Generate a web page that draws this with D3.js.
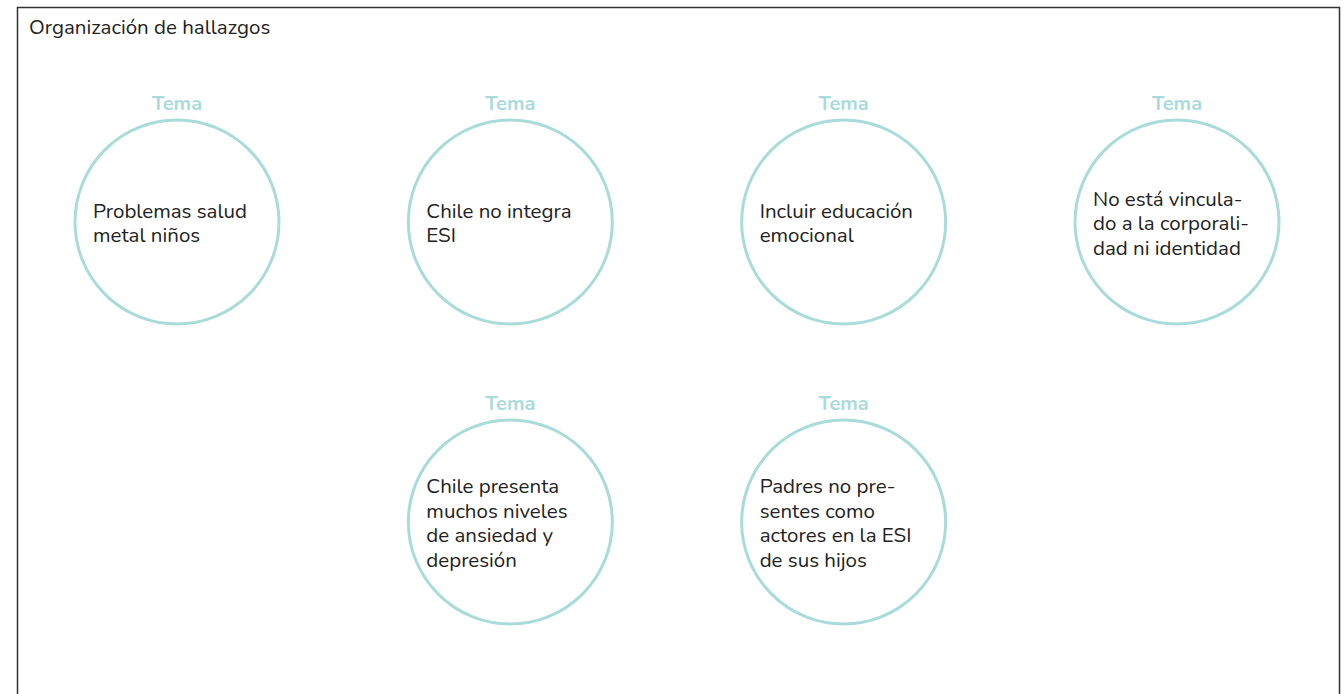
<!DOCTYPE html>
<html>
<head>
<meta charset="utf-8">
<script src="https://cdn.jsdelivr.net/npm/d3@7"></script>
<style>
  html, body { margin: 0; padding: 0; background: #fff; }
  svg { display: block; }
</style>
</head>
<body>
<svg id="chart" width="1344" height="694"></svg>
<script>
const title = "Organización de hallazgos";
const headers = ["Tema", "Tema", "Tema", "Tema", "Tema", "Tema"];
const findings = [
  ["Problemas salud", "metal niños"],
  ["Chile no integra", "ESI"],
  ["Incluir educación", "emocional"],
  ["No está vincula-", "do a la corporali-", "dad ni identidad"],
  ["Chile presenta", "muchos niveles", "de ansiedad y", "depresión"],
  ["Padres no pre-", "sentes como", "actores en la ESI", "de sus hijos"]
];
const cols = [0, 1, 2, 3, 1, 2];
const rows = [0, 0, 0, 0, 1, 1];

const svg = d3.select("#chart");
const teal = "#a9dbdb";
const font = "Nunito, Lato, 'Open Sans', sans-serif";

// frame
svg.append("rect")
    .attr("x", 17.5).attr("y", 7.5)
    .attr("width", 1322).attr("height", 700)
    .attr("fill", "#fff")
    .attr("stroke", "#333")
    .attr("stroke-width", 1.5);

svg.append("text")
    .attr("x", 29).attr("y", 34)
    .attr("font-family", font)
    .attr("font-size", 20.5)
    .attr("fill", "#222")
    .text(title);

const x = d3.scalePoint().domain([0, 1, 2, 3]).range([177, 1177]);
const y = d3.scalePoint().domain([0, 1]).range([222, 522]);
const r = 102;
const lineH = 24.5;

const nodes = svg.append("g")
  .selectAll("g")
  .data(findings.map((lines, i) => ({lines, head: headers[i], col: cols[i], row: rows[i]})))
  .enter().append("g")
    .attr("transform", d => `translate(${x(d.col)},${y(d.row)})`);

nodes.append("circle")
    .attr("r", r)
    .attr("fill", "none")
    .attr("stroke", teal)
    .attr("stroke-width", 3);

nodes.append("text")
    .attr("y", -r - 10)
    .attr("text-anchor", "middle")
    .attr("font-family", font)
    .attr("font-weight", "bold")
    .attr("font-size", 20)
    .attr("fill", teal)
    .text(d => d.head);

nodes.append("text")
    .attr("font-family", font)
    .attr("font-size", 20.5)
    .attr("fill", "#222")
  .selectAll("tspan")
  .data(d => d.lines.map((t, i) => ({t, i, n: d.lines.length})))
  .enter().append("tspan")
    .attr("x", -84)
    .attr("y", d => (d.i - (d.n - 1) / 2) * lineH + 8)
    .text(d => d.t);
</script>
</body>
</html>
